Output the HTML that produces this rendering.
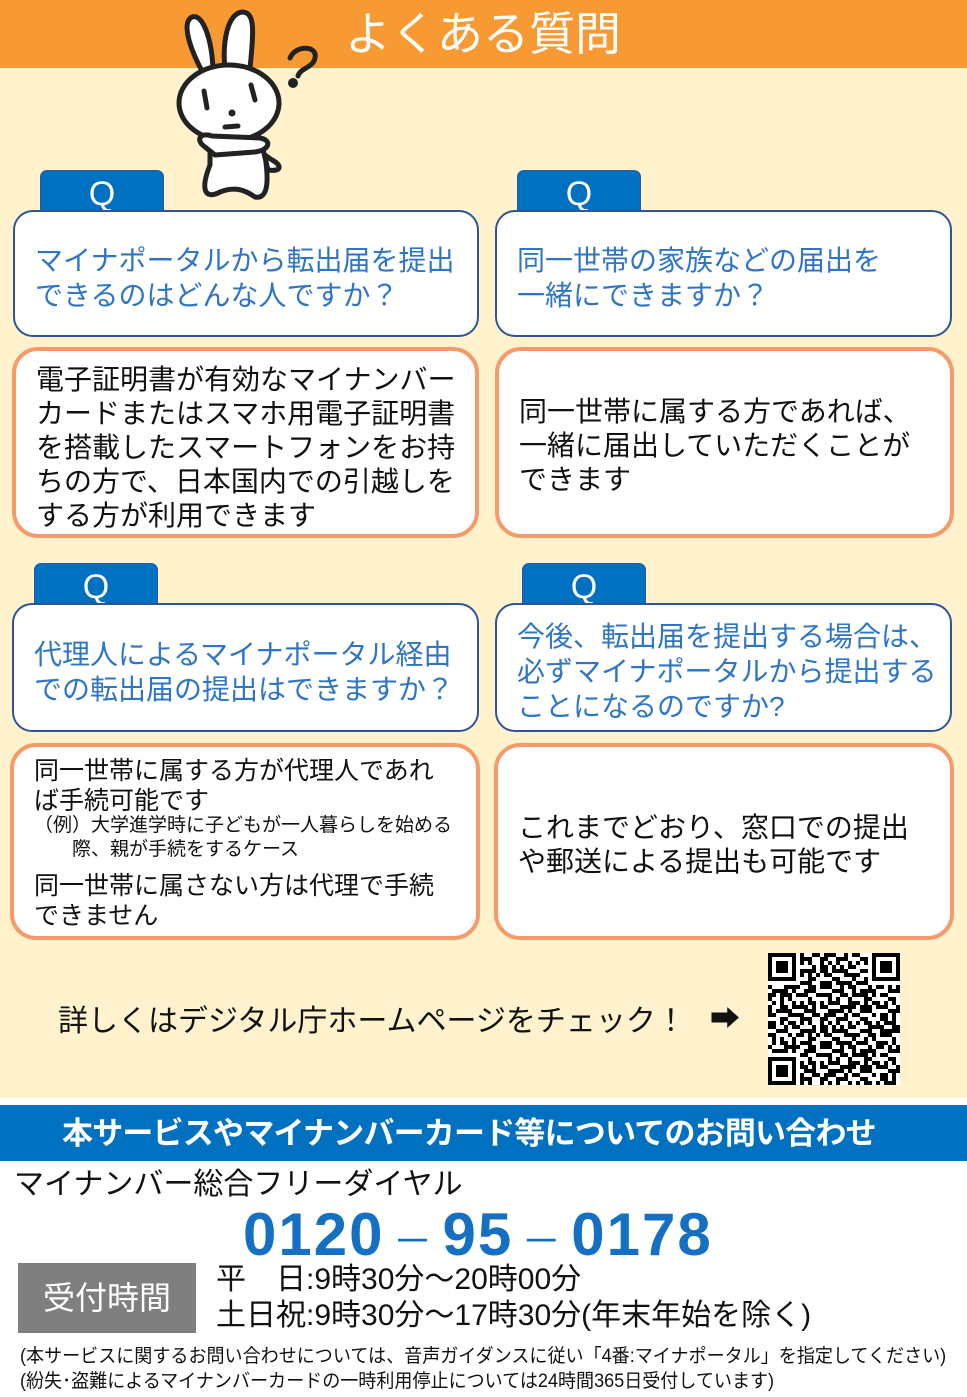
<!DOCTYPE html>
<html><head><meta charset="utf-8"><style>
*{margin:0;padding:0;box-sizing:border-box}
body{width:967px;height:1397px;position:relative;background:#fff;font-family:"Liberation Sans","Noto Sans CJK JP",sans-serif;overflow:hidden}
.a{position:absolute}
.tab{position:absolute;width:124px;height:42px;background:#0070c0;border:1.5px solid #2f5597;border-radius:7px 7px 0 0;color:#fff;font-size:34px;text-align:center;line-height:46px;overflow:hidden}
.q{position:absolute;background:#fff;border:2px solid #2f5597;border-radius:20px;color:#2e75c6;font-size:28px;line-height:35px;padding-left:20px}
.ans{position:absolute;background:#fff;border:4px solid #f79a6a;border-radius:26px;color:#111;font-size:28px;line-height:34px;padding-left:20px}
.nw{white-space:nowrap}
</style></head><body>
<div class="a" style="left:0;top:0;width:967px;height:68px;background:#f89a33"></div>
<div class="a" style="left:0;top:68px;width:967px;height:1030px;background:#fff2cc"></div>
<div class="a nw" style="left:345px;top:6px;color:#fff;font-size:46px;line-height:56px">よくある質問</div>

<svg class="a" style="left:170px;top:8px" width="160" height="195" viewBox="170 8 160 195">
<g fill="#fff" stroke="#222" stroke-width="5" stroke-linejoin="round">
<path d="M203 73 C188 45 182 22 192 17 C203 13 212 40 213 70Z"/>
<path d="M225 70 C222 40 228 14 242 12 C255 12 254 30 250 68Z"/>
<path d="M210 165 C200 190 205 200 220 192 C235 186 245 190 255 197 C270 200 268 175 265 155 L272 160 C282 165 282 172 268 170 L262 145 L210 150Z"/>
<ellipse cx="229" cy="103" rx="50" ry="38"/>
<path d="M205 147 C195 140 200 132 212 136 L260 138 C272 140 270 150 255 152 L215 155Z"/>
</g>
<g stroke="#222" stroke-width="5" fill="none" stroke-linecap="round">
<path d="M204 91 L207 108"/><path d="M251 85 L255 100"/><path d="M225 127 L238 126"/>
<path d="M290 58 C295 45 318 45 315 58 C313 68 300 68 298 76"/>
</g>
<circle cx="232" cy="113" r="3.5" fill="#222"/><circle cx="293" cy="83" r="5" fill="#222"/>
</svg>

<div class="tab" style="left:40px;top:170px">Q</div>
<div class="tab" style="left:517px;top:170px">Q</div>
<div class="q" style="left:13px;top:210px;width:466px;height:127px;padding-top:31px"><span class="nw">マイナポータルから転出届を提出</span><br>できるのはどんな人ですか？</div>
<div class="q" style="left:495px;top:210px;width:457px;height:127px;padding-top:31px">同一世帯の家族などの届出を<br>一緒にできますか？</div>
<div class="ans" style="left:12px;top:347px;width:467px;height:191px;padding-top:12px"><span class="nw">電子証明書が有効なマイナンバー</span><br><span class="nw">カードまたはスマホ用電子証明書</span><br>を搭載したスマートフォンをお持<br>ちの方で、日本国内での引越しを<br>する方が利用できます</div>
<div class="ans" style="left:495px;top:347px;width:459px;height:191px;padding-top:44px">同一世帯に属する方であれば、<br>一緒に届出していただくことが<br>できます</div>

<div class="tab" style="left:34px;top:563px">Q</div>
<div class="tab" style="left:522px;top:563px">Q</div>
<div class="q" style="left:12px;top:603px;width:467px;height:129px;padding-top:32px"><span class="nw">代理人によるマイナポータル経由</span><br><span class="nw">での転出届の提出はできますか？</span></div>
<div class="q" style="left:495px;top:603px;width:457px;height:129px;padding-top:14px"><span class="nw">今後、転出届を提出する場合は、</span><br><span class="nw">必ずマイナポータルから提出する</span><br>ことになるのですか?</div>
<div class="ans" style="left:10px;top:743px;width:470px;height:197px;padding-left:20px;padding-top:9px;font-size:25px;line-height:30px"><span class="nw">同一世帯に属する方が代理人であれ</span><br>ば手続可能です<br><div style="font-size:19px;line-height:24px;margin-top:-2px" class="nw">（例）大学進学時に子どもが一人暮らしを始める<br><span style="padding-left:38px">際、親が手続をするケース</span></div><div style="margin-top:9px">同一世帯に属さない方は代理で手続<br>できません</div></div>
<div class="ans" style="left:494px;top:743px;width:460px;height:197px;padding-top:64px">これまでどおり、窓口での提出<br>や郵送による提出も可能です</div>

<div class="a nw" style="left:58px;top:1002px;font-size:30px;line-height:40px;color:#111">詳しくはデジタル庁ホームページをチェック！</div>
<div class="a" style="left:710px;top:1000px;font-size:30px;line-height:40px;color:#111">➡</div>

<svg class="a" style="left:768px;top:953px" width="132" height="132" viewBox="0 0 33 33" shape-rendering="crispEdges">
<defs><pattern id="p" width="7" height="5" patternUnits="userSpaceOnUse">
<rect x="0" y="0" width="2" height="1"/><rect x="3" y="1" width="1" height="2"/><rect x="5" y="0" width="1" height="1"/><rect x="1" y="2" width="1" height="1"/><rect x="6" y="2" width="1" height="2"/><rect x="2" y="4" width="3" height="1"/><rect x="0" y="3" width="1" height="1"/><rect x="4" y="3" width="1" height="1"/></pattern>
<pattern id="p2" width="5" height="3" patternUnits="userSpaceOnUse"><rect x="1" y="0" width="1" height="1"/><rect x="3" y="1" width="2" height="1"/><rect x="0" y="2" width="1" height="1"/></pattern></defs>
<rect width="33" height="33" fill="#fff"/>
<rect width="33" height="33" fill="url(#p)"/><rect width="33" height="33" fill="url(#p2)"/>
<g><rect x="0" y="0" width="8" height="8" fill="#fff"/><rect x="25" y="0" width="8" height="8" fill="#fff"/><rect x="0" y="25" width="8" height="8" fill="#fff"/></g>
<g fill="none" stroke="#000"><rect x="0.5" y="0.5" width="6" height="6"/><rect x="26.5" y="0.5" width="6" height="6"/><rect x="0.5" y="26.5" width="6" height="6"/></g>
<rect x="2" y="2" width="3" height="3"/><rect x="28" y="2" width="3" height="3"/><rect x="2" y="28" width="3" height="3"/>
</svg>

<div class="a" style="left:0;top:1105px;width:967px;height:56px;background:#0070c0"></div>
<div class="a nw" style="left:62px;top:1114px;font-size:31px;line-height:40px;color:#fff;font-weight:bold;letter-spacing:-0.8px">本サービスやマイナンバーカード等についてのお問い合わせ</div>
<div class="a nw" style="left:14px;top:1165px;font-size:30px;line-height:40px;color:#111">マイナンバー総合フリーダイヤル</div>
<div class="a nw" style="left:243px;top:1200px;font-size:60px;line-height:70px;color:#1570c4;font-weight:bold;letter-spacing:2px">0120<span style="font-weight:normal;font-size:40px;padding:0 8px">－</span>95<span style="font-weight:normal;font-size:40px;padding:0 8px">－</span>0178</div>
<div class="a" style="left:18px;top:1263px;width:178px;height:70px;background:#7f7f7f;color:#fff;font-size:32px;line-height:70px;text-align:center">受付時間</div>
<div class="a nw" style="left:216px;top:1262px;font-size:30px;line-height:36px;color:#111">平　日:9時30分～20時00分<br>土日祝:9時30分～17時30分(年末年始を除く)</div>
<div class="a nw" style="left:20px;top:1344px;font-size:19px;line-height:25px;color:#111;transform:scaleX(0.95);transform-origin:left top">(本サービスに関するお問い合わせについては、音声ガイダンスに従い「4番:マイナポータル」を指定してください)<br>(紛失･盗難によるマイナンバーカードの一時利用停止については24時間365日受付しています)</div>
</body></html>
